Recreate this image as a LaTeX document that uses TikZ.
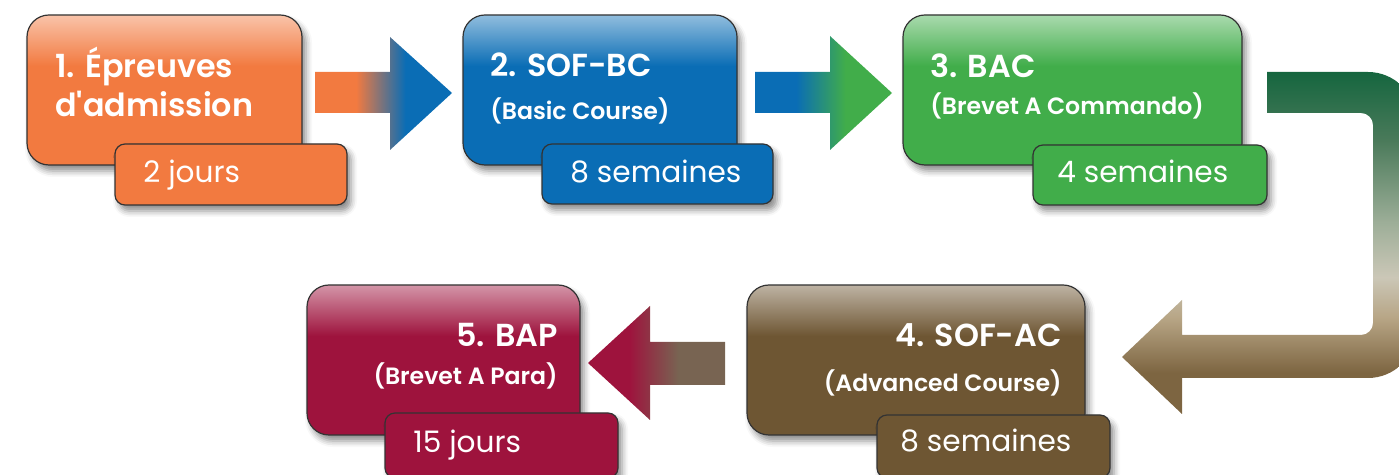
\documentclass[tikz,border=0pt]{standalone}
\usepackage{fontspec}
\setmainfont{Poppins}[BoldFont={* SemiBold}]
\usetikzlibrary{fit,shadows.blur}

\definecolor{stOrange}{HTML}{F27A40}
\definecolor{stBlue}{HTML}{0A6DB5}
\definecolor{stGreen}{HTML}{41AD4A}
\definecolor{stBrown}{HTML}{6E5633}
\definecolor{stCrimson}{HTML}{9E133D}
\definecolor{stTaupe}{HTML}{786452}
% colours of the bent arrow, top to bottom
\definecolor{turnA}{HTML}{15663F}
\definecolor{turnB}{HTML}{4A7A5A}
\definecolor{turnC}{HTML}{9DAE98}
\definecolor{turnD}{HTML}{CBC7B7}
\definecolor{turnE}{HTML}{B7A585}
\definecolor{turnF}{HTML}{7D6541}

% light band at the top of each stage box
\pgfdeclareverticalshading[fillbase,filltop]{stagefill}{100bp}{color(0bp)=(fillbase); color(58bp)=(fillbase); color(75bp)=(filltop); color(100bp)=(filltop)}
% colour change along a straight arrow
\pgfdeclarehorizontalshading[flowfrom,flowto]{flowfill}{100bp}{color(0bp)=(flowfrom); color(40bp)=(flowfrom); color(58bp)=(flowto); color(100bp)=(flowto)}
\pgfdeclareverticalshading{turnfill}{100bp}{color(0bp)=(turnF); color(25bp)=(turnF); color(31bp)=(turnF); color(39bp)=(turnE); color(45bp)=(turnD); color(53bp)=(turnC); color(65bp)=(turnB); color(75bp)=(turnA); color(100bp)=(turnA)}

\begin{document}
\begin{tikzpicture}[
  x=0.5pt,y=-0.5pt,
  shadowed/.style={blur shadow={shadow xshift=2pt,shadow yshift=-3pt,shadow blur radius=3pt,shadow opacity=45}},
  stage/.style={draw=black!80,line width=0.6pt,rounded corners=11pt,inner sep=0pt,
    /utils/exec={\colorlet{fillbase}{#1}\colorlet{filltop}{#1!45!white}},
    shading=stagefill,shadowed},
  span/.style={draw=black!80,line width=0.6pt,rounded corners=5pt,inner sep=0pt,fill=#1,shadowed},
  flow/.style 2 args={/utils/exec={\colorlet{flowfrom}{#1}\colorlet{flowto}{#2}},shading=flowfill},
  title/.style={text=white,inner sep=0pt,font=\bfseries\fontsize{15.9}{18}\selectfont},
  subtitle/.style={text=white,inner sep=0pt,font=\bfseries\fontsize{11.8}{14}\selectfont},
  duration/.style={text=white,inner sep=0pt,font=\fontsize{14.8}{17}\selectfont}
]
\path[use as bounding box,clip] (0,0) rectangle (1399,475);

% arrows between the stages
\path[flow={stOrange}{stBlue}] (315,72) -- (390,72) -- (390,37) -- (452,93) -- (390,150) -- (390,113) -- (315,113) -- cycle;
\path[flow={stBlue}{stGreen}] (755,72) -- (830,72) -- (830,36) -- (892,93) -- (830,150) -- (830,113) -- (755,113) -- cycle;
\path[shading=turnfill] (1267,72) [rounded corners=24pt] -- (1416,72) -- (1416,378) [sharp corners] -- (1182,378) -- (1182,414) -- (1122,357) -- (1182,300) -- (1182,335) [rounded corners=6pt] -- (1373,335) -- (1373,113) [sharp corners] -- (1267,113) -- cycle;
\path[flow={stCrimson}{stTaupe}] (725,342) -- (650,342) -- (650,306) -- (588,363) -- (650,420) -- (650,385) -- (725,385) -- cycle;

% stage 1
\node[stage=stOrange,fit={(27,15) (302,165)}] (b1) {};
\node[span=stOrange,fit={(115,144) (347,205)}] (d1) {};
\node[title,anchor=base west] (t1) at (55,78) {1. Épreuves};
\node[title,anchor=base west] (s1) at (55,117) {d\textquotesingle admission};
\node[duration,anchor=base west] (l1) at (143,183) {2 jours};

% stage 2
\node[stage=stBlue,fit={(463,15) (737,165)}] (b2) {};
\node[span=stBlue,fit={(542,144) (773,204)}] (d2) {};
\node[title,anchor=base west] (t2) at (490,77) {2. SOF-BC};
\node[subtitle,anchor=base west] (s2) at (490,120) {(Basic Course)};
\node[duration,anchor=base west] (l2) at (570,183) {8 semaines};

% stage 3
\node[stage=stGreen,fit={(903,15) (1242,165)}] (b3) {};
\node[span=stGreen,fit={(1033,145) (1267,205)}] (d3) {};
\node[title,anchor=base west] (t3) at (930,78) {3. BAC};
\node[subtitle,anchor=base west] (s3) at (930,115) {(Brevet A Commando)};
\node[duration,anchor=base west] (l3) at (1057,183) {4 semaines};

% stage 4
\node[stage=stBrown,fit={(747,285) (1085,435)}] (b4) {};
\node[span=stBrown,fit={(877,415) (1110,478)}] (d4) {};
\node[title,anchor=base east] (t4) at (1062,347) {4. SOF-AC};
\node[subtitle,anchor=base east] (s4) at (1062,392) {(Advanced Course)};
\node[duration,anchor=base west] (l4) at (900,452) {8 semaines};

% stage 5
\node[stage=stCrimson,fit={(307,285) (580,435)}] (b5) {};
\node[span=stCrimson,fit={(385,413) (618,478)}] (d5) {};
\node[title,anchor=base east] (t5) at (558,347) {5. BAP};
\node[subtitle,anchor=base east] (s5) at (558,385) {(Brevet A Para)};
\node[duration,anchor=base west] (l5) at (413,453) {15 jours};
\end{tikzpicture}
\end{document}
